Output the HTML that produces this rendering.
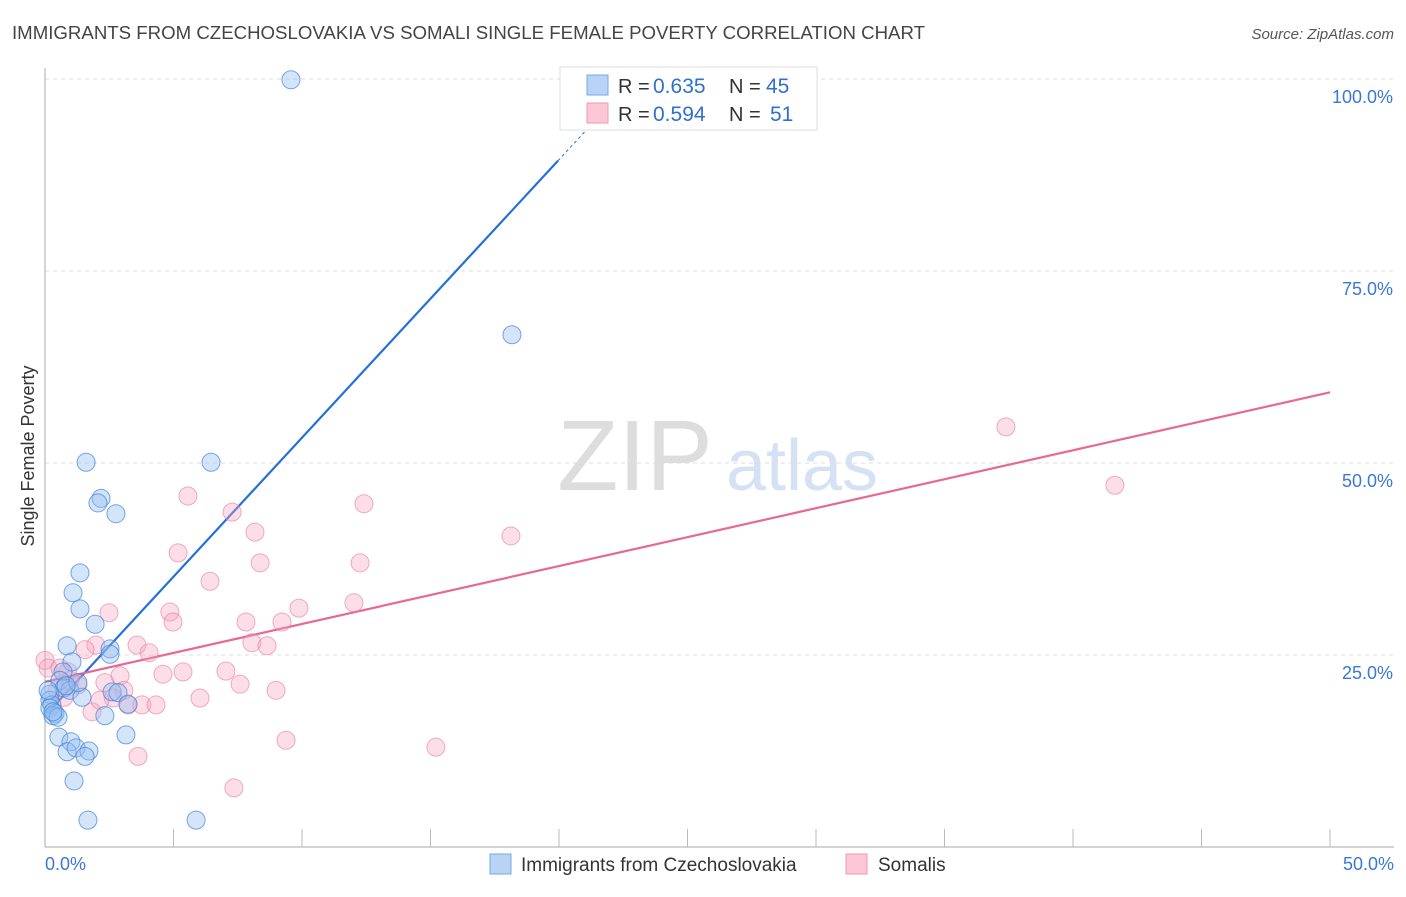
<!DOCTYPE html>
<html><head><meta charset="utf-8"><style>
body{margin:0;background:#fff;font-family:"Liberation Sans",sans-serif;}
svg text{font-family:"Liberation Sans",sans-serif;}
</style></head><body>
<svg id="chart" width="1406" height="892" xmlns="http://www.w3.org/2000/svg">
<text x="12" y="39" font-size="18" fill="#444" textLength="913" lengthAdjust="spacingAndGlyphs">IMMIGRANTS FROM CZECHOSLOVAKIA VS SOMALI SINGLE FEMALE POVERTY CORRELATION CHART</text>
<text x="1394" y="39" font-size="15" fill="#555" text-anchor="end" font-style="italic">Source: ZipAtlas.com</text>
<text transform="translate(34,456) rotate(-90)" font-size="18" fill="#333" text-anchor="middle">Single Female Poverty</text>
<g>
<text x="635" y="490" font-size="100" fill="#ddd" text-anchor="middle" font-family="Liberation Serif">ZIP</text>
<text x="802" y="490" font-size="72" fill="#d4e2f4" text-anchor="middle">atlas</text>
</g>
<g id="grid"></g><g id="axes"></g><g id="lines"></g><g id="pts"></g>
<g>
<rect x="560" y="67" width="257" height="63" fill="#fff" stroke="#ddd"/>
<rect x="587" y="75" width="21" height="20" fill="#b8d3f5" stroke="#7aa8e0"/>
<rect x="587" y="103" width="21" height="20" fill="#fcc7d6" stroke="#ee9ab3"/>
<text x="618" y="93" font-size="20" fill="#333">R =</text>
<text x="653" y="93" font-size="21" fill="#2f6fd0">0.635</text>
<text x="729" y="93" font-size="20" fill="#333">N =</text>
<text x="766" y="93" font-size="21" fill="#2f6fd0">45</text>
<text x="618" y="121" font-size="20" fill="#333">R =</text>
<text x="653" y="121" font-size="21" fill="#2f6fd0">0.594</text>
<text x="729" y="121" font-size="20" fill="#333">N =</text>
<text x="770" y="121" font-size="21" fill="#2f6fd0">51</text>
</g>
<g>
<rect x="490" y="854" width="21" height="20" fill="#b8d3f5" stroke="#7aa8e0"/>
<text x="521" y="871" font-size="19" fill="#333">Immigrants from Czechoslovakia</text>
<rect x="846" y="854" width="21" height="20" fill="#fcc7d6" stroke="#ee9ab3"/>
<text x="878" y="871" font-size="19" fill="#333">Somalis</text>
</g>
</svg>
<script>
const blueX=[9.57,18.17,1.60,6.46,2.18,2.06,2.76,1.36,1.09,1.36,1.95,0.86,2.53,2.53,1.05,0.70,0.58,0.74,0.97,2.61,2.84,0.19,1.44,0.19,0.27,0.19,0.39,0.31,3.23,2.33,0.54,1.01,0.86,1.21,1.71,1.56,3.15,1.13,1.67,5.88,0.51,0.12,1.28,0.82,0.31];
const blueY=[99.9,66.7,50.1,50.1,45.4,44.8,43.4,35.7,33.1,31.0,29.0,26.2,25.8,25.1,24.1,22.8,21.7,20.7,20.4,20.2,20.1,19.9,19.5,19.1,18.5,18.1,17.4,17.1,18.6,17.1,14.3,13.7,12.4,12.9,12.5,11.8,14.6,8.6,3.5,3.5,16.9,20.4,21.4,21.0,17.6];
const pinkX=[37.39,41.63,5.56,12.41,7.28,18.13,8.17,5.18,8.37,12.26,6.42,2.49,9.88,12.02,4.86,4.98,7.82,9.22,1.98,3.58,8.05,8.64,1.56,4.05,0,0.12,0.58,5.37,4.59,7.04,2.92,1.28,2.33,3.07,7.59,8.99,6.03,2.65,1.83,3.23,3.77,4.32,3.62,9.38,15.21,7.35,0.47,0.97,0.74,2.14,0.89];
const pinkY=[54.7,47.1,45.7,44.7,43.6,40.5,41.0,38.3,37.0,37.0,34.6,30.5,31.1,31.8,30.6,29.3,29.3,29.3,26.3,26.3,26.6,26.2,25.7,25.3,24.3,23.3,23.3,22.8,22.5,22.9,22.3,21.1,21.4,20.4,21.2,20.4,19.4,19.4,17.6,18.5,18.5,18.5,11.8,13.9,13.0,7.7,20.4,21.7,19.5,19.1,22.8];
const yTicks=[25,50,75,100];
const yTickLabels=["25.0%","50.0%","75.0%","100.0%"];
const blueTrend=[17.1,3.62];
const pinkTrend=[21.5,0.754];
const NS="http://www.w3.org/2000/svg";
const sx=v=>45+v*25.7, sy=v=>847-v*7.68;
function mk(p,tag,a){const e=document.createElementNS(NS,tag);for(const k in a)e.setAttribute(k,a[k]);document.getElementById(p).appendChild(e);return e;}
yTicks.forEach((t,i)=>{
 const g=mk('grid','line',{x1:45,x2:1394,y1:sy(t),y2:sy(t),stroke:'#ddd','stroke-dasharray':'4 4'});
 
 
 const l=mk('grid','text',{x:1393,y:sy(t)+24,'font-size':18,fill:'#3b78d6','text-anchor':'end'});l.textContent=yTickLabels[i];
 
 
});
const ax=mk('axes','line',{x1:45,x2:45,y1:68,y2:847,stroke:'#aaa'});


const bx=mk('axes','line',{x1:45,x2:1394,y1:847,y2:847,stroke:'#aaa'});


for(let i=1;i<=10;i++){const t=mk('axes','line',{x1:sx(i*5),x2:sx(i*5),y1:829,y2:847,stroke:'#bbb'});
 
 }
const x0=mk('axes','text',{x:45,y:870,'font-size':18,fill:'#3b78d6'});x0.textContent='0.0%';


const x1=mk('axes','text',{x:1394,y:870,'font-size':18,fill:'#3b78d6','text-anchor':'end'});x1.textContent='50.0%';


const bl=mk('lines','line',{x1:sx(0.08),y1:sy(blueTrend[0]+blueTrend[1]*0.08),x2:sx(19.96),y2:sy(blueTrend[0]+blueTrend[1]*19.96),stroke:'#2570d8','stroke-width':2.2});


const bd=mk('lines','line',{x1:sx(19.96),y1:sy(blueTrend[0]+blueTrend[1]*19.96),x2:sx(21.2),y2:sy(blueTrend[0]+blueTrend[1]*21.2),stroke:'#2570d8','stroke-width':1,'stroke-dasharray':'3 3'});


const pl=mk('lines','line',{x1:sx(0),y1:sy(pinkTrend[0]),x2:sx(50),y2:sy(pinkTrend[0]+pinkTrend[1]*50),stroke:'#e86892','stroke-width':2.2});


pinkX.forEach((x,i)=>{const c=mk('pts','circle',{cx:sx(x),cy:sy(pinkY[i]),r:9,fill:'rgba(246,160,188,0.35)',stroke:'rgba(232,120,156,0.6)','stroke-width':1});
 
 });
blueX.forEach((x,i)=>{const c=mk('pts','circle',{cx:sx(x),cy:sy(blueY[i]),r:9,fill:'rgba(150,190,240,0.4)',stroke:'rgba(60,130,220,0.7)','stroke-width':1});
 
 });
</script>
</body></html>
